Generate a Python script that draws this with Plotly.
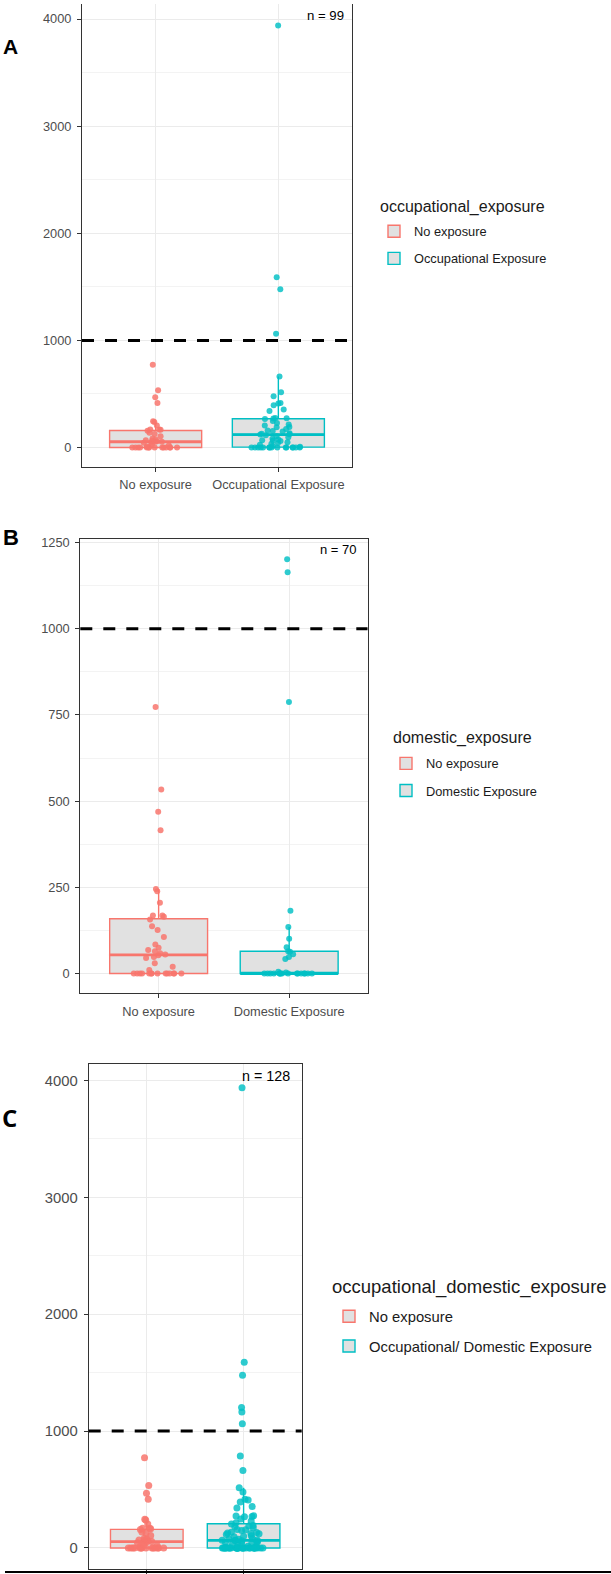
import numpy as np
import plotly.graph_objects as go

W, H = 611, 1574

# ---------------- data ----------------
no_exposure = [773, 534, 469, 416, 245, 239, 205, 168, 168, 165, 157,
               137, 126, 106, 84, 75, 68, 65, 59, 55, 53,
               48, 45, 30, 20, 10,
               0, 0, 0, 0, 0, 0, 0, 0, 0, 0, 0, 0, 0, 0]
occupational = [3939, 1589, 1478, 1062, 662, 515, 478, 416, 410, 394, 354, 341, 276, 273, 270, 267,
                248, 230, 215, 205, 192, 189, 174, 158, 155, 150, 133, 128, 124, 121,
                115, 105, 95, 81, 75, 68, 65, 62, 50, 43, 35, 25, 15, 8,
                0, 0, 0, 0, 0, 0, 0, 0, 0, 0, 0, 0, 0, 0, 0]
domestic = [1202, 1164, 788, 182, 135, 101, 76, 65, 63, 56, 48, 42, 5, 3,
            0, 0, 0, 0, 0, 0, 0, 0, 0, 0, 0, 0, 0, 0, 0, 0]
occ_domestic = [3939, 1589, 1478, 1202, 1164, 1062, 788, 662, 515, 478, 416, 410, 394, 354, 341,
                276, 273, 270, 267, 248, 230, 215, 205, 192, 189, 182, 174, 158, 155, 150,
                135, 133, 128, 124, 121, 115, 105, 101, 95, 81, 76, 75, 68, 65, 65, 63, 62,
                56, 50, 48, 43, 42, 35, 25, 15, 8, 5, 3,
                0, 0, 0, 0, 0, 0, 0, 0, 0, 0, 0, 0, 0, 0, 0, 0, 0, 0, 0, 0,
                0, 0, 0, 0, 0, 0, 0, 0, 0, 0]

panels = [
    dict(cats=["No exposure", "Occupational Exposure"], groups=[no_exposure, occupational],
         legend_title="occupational_exposure", n_label="n = 99", letter="A"),
    dict(cats=["No exposure", "Domestic Exposure"], groups=[no_exposure, domestic],
         legend_title="domestic_exposure", n_label="n = 70", letter="B"),
    dict(cats=["No exposure", "Occupational/ Domestic Exposure"], groups=[no_exposure, occ_domestic],
         legend_title="occupational_domestic_exposure", n_label="n = 128", letter="C"),
]
threshold = 1000

# ---------------- layout geometry (pixels) ----------------
def fx(p):
    return p / W

def fy(p):
    return 1 - p / H

geo = [
    dict(x=(82, 352), y=(0, 464), yr=[-180, 4140], dtick=1000, minor=500, fs=12.8, ms=6,
         leg=(374, 213), title=(378, 204, 16), gap=7.5,
         letter=(1, 43, 21, "Liberation Sans"), n=(346, 12, 13.2)),
    dict(x=(80.3, 367.5), y=(536, 991.7), yr=[-57, 1261.6], dtick=250, minor=125, fs=12.8, ms=6,
         leg=(386, 746.5), title=(391, 736, 16), gap=7.5,
         letter=(1, 535, 22, "Liberation Sans"), n=(359, 547, 13)),
    dict(x=(88.7, 301.7), y=(1063, 1569.4), yr=[-183.5, 4139], dtick=1000, minor=500, fs=14.8, ms=7,
         leg=(329, 1299.5), title=(330, 1286, 18.5), gap=7.5,
         letter=(0, 1116, 24, "Open Sans"), n=(292, 1075, 14.3)),
]

line_cols = ["#F8766D", "#00BFC4"]
pt_cols = ["rgba(248,118,109,0.85)", "rgba(0,191,196,0.82)"]
FONT = "Liberation Sans, Arial, sans-serif"

fig = go.Figure()
layout = dict(width=W, height=H, margin=dict(l=0, r=0, t=0, b=0),
              paper_bgcolor="white", plot_bgcolor="white", boxmode="overlay",
              showlegend=True, font=dict(family=FONT, color="#1a1a1a"))
annotations = []
shapes = []

for i, (p, g) in enumerate(zip(panels, geo)):
    sfx = "" if i == 0 else str(i + 1)
    xa, ya = "x" + sfx, "y" + sfx
    leg = "legend" + sfx
    for j, (cat, vals) in enumerate(zip(p["cats"], p["groups"])):
        arr = np.array(vals, dtype=float)
        q1, med, q3 = np.percentile(arr, [25, 50, 75])
        iqr = q3 - q1
        lf = arr[arr >= q1 - 1.5 * iqr].min()
        uf = arr[arr <= q3 + 1.5 * iqr].max()
        # box (stats)
        fig.add_trace(go.Box(x=[cat], q1=[q1], median=[med], q3=[q3], lowerfence=[lf], upperfence=[uf],
                             name=cat, boxpoints=False, width=0.75, whiskerwidth=0, fillcolor="#E1E1E1",
                             line=dict(color=line_cols[j], width=1.4), xaxis=xa, yaxis=ya,
                             legend=leg, legendgroup=f"{i}-{j}", showlegend=True, hoverinfo="skip"))
        # thicker median
        fig.add_trace(go.Box(x=[cat], q1=[med], median=[med], q3=[med], lowerfence=[med], upperfence=[med],
                             boxpoints=False, width=0.75, whiskerwidth=0, fillcolor="rgba(0,0,0,0)",
                             line=dict(color=line_cols[j], width=2.8), xaxis=xa, yaxis=ya,
                             showlegend=False, hoverinfo="skip"))
        # jittered points
        fig.add_trace(go.Box(x=[cat] * len(vals), y=vals, boxpoints="all", jitter=0.6, pointpos=0,
                             width=0.75, whiskerwidth=0, fillcolor="rgba(0,0,0,0)",
                             line=dict(color="rgba(0,0,0,0)", width=0),
                             marker=dict(color=pt_cols[j], size=g["ms"]),
                             xaxis=xa, yaxis=ya, showlegend=False, hoverinfo="skip"))

    axis_common = dict(showline=True, linecolor="#333333", linewidth=1.1,
                       ticks="outside", ticklen=4, tickwidth=1, tickcolor="#333333",
                       tickfont=dict(family=FONT, size=g["fs"], color="#4D4D4D"),
                       gridcolor="#EBEBEB", gridwidth=1.1, zeroline=False)
    layout["xaxis" + sfx] = dict(axis_common, domain=[fx(g["x"][0]), fx(g["x"][1])],
                                 anchor=ya, type="category", categoryorder="array",
                                 categoryarray=p["cats"], range=[-0.6, 1.6],
                                 mirror=(i != 0), showgrid=True, showticklabels=(i != 2),
                                 ticklabelstandoff=2)
    layout["yaxis" + sfx] = dict(axis_common, domain=[fy(g["y"][1]), fy(g["y"][0])],
                                 anchor=xa, range=g["yr"], tickmode="linear", tick0=0,
                                 dtick=g["dtick"], mirror=True, showgrid=True,
                                 ticklabelstandoff=3,
                                 minor=dict(dtick=g["minor"], tick0=0, showgrid=True,
                                            gridcolor="#F3F3F3", gridwidth=0.7, ticks=""))
    fs = g["fs"]
    layout[leg] = dict(x=fx(g["leg"][0]), y=fy(g["leg"][1]), xanchor="left", yanchor="top",
                       bgcolor="rgba(0,0,0,0)", tracegroupgap=g["gap"], traceorder="grouped",
                       font=dict(family=FONT, size=fs, color="#1a1a1a"))
    # legend title as text
    tx, ty, tsz = g["title"]
    annotations.append(dict(text=p["legend_title"], xref="paper", yref="paper", x=fx(tx), y=fy(ty),
                            xanchor="left", yanchor="middle", showarrow=False,
                            font=dict(family=FONT, size=tsz, color="#1a1a1a")))
    # threshold dashed line
    shapes.append(dict(type="line", xref=xa + " domain", yref=ya, x0=0, x1=1, y0=threshold, y1=threshold,
                       line=dict(color="black", width=3, dash="12px,11px"), layer="above"))
    # n label
    annotations.append(dict(text=p["n_label"], xref="paper", yref="paper", x=fx(g["n"][0]), y=fy(g["n"][1]),
                            xanchor="right", yanchor="middle", showarrow=False,
                            font=dict(family=FONT, size=g["n"][2], color="black")))
    # panel letter
    lx, ly, lsz, lfam = g["letter"]
    annotations.append(dict(text="<b>%s</b>" % p["letter"], xref="paper", yref="paper", x=fx(lx), y=fy(ly),
                            xanchor="left", yanchor="middle", showarrow=False,
                            font=dict(family=lfam, size=lsz, color="black")))

# bottom rule present in the figure
shapes.append(dict(type="line", xref="paper", yref="paper", x0=fx(5), x1=1, y0=fy(1572), y1=fy(1572),
                   line=dict(color="black", width=2)))

layout["annotations"] = annotations
layout["shapes"] = shapes
fig.update_layout(**layout)
fig.write_html("out.html")
